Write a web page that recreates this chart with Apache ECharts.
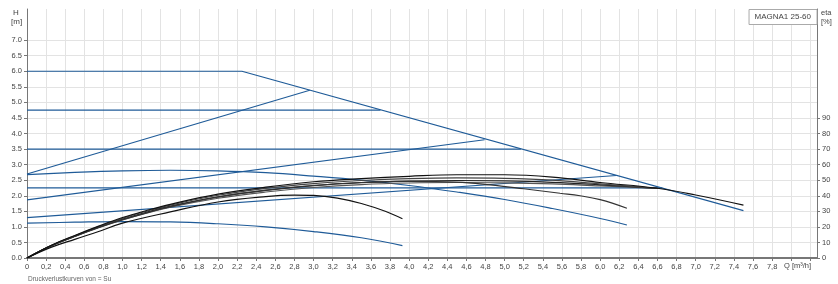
<!DOCTYPE html>
<html><head><meta charset="utf-8">
<script src="https://cdn.jsdelivr.net/npm/echarts@6/dist/echarts.min.js"></script>
<style>html,body{margin:0;padding:0;background:#fff}#c{width:838px;height:284px}</style>
</head><body><div id="c"></div>
<script>
// ---- Data (H in m, Q in m³/h, eta in %) ----
const maxQ = [0, 2.25, 7.5];
const maxH = [6.0, 6.0, 1.52];
const cp1Q = [0, 3.7];   const cp1H = [4.75, 4.75];
const cp2Q = [0, 5.17];  const cp2H = [3.5, 3.5];
const cp3Q = [0, 6.65];  const cp3H = [2.25, 2.25];
const pp1Q = [0, 2.96];  const pp1H = [2.7, 5.39];
const pp2Q = [0, 4.79];  const pp2H = [1.87, 3.8];
const pp3Q = [0, 6.17];  const pp3H = [1.3, 2.65];
const midQ = [0, 0.5, 1.0, 1.5, 2.0, 2.5, 3.0, 3.5, 4.0, 4.5, 5.0, 5.5, 6.0, 6.28];
const midH = [2.68, 2.75, 2.80, 2.82, 2.80, 2.74, 2.63, 2.50, 2.33, 2.12, 1.88, 1.59, 1.27, 1.06];
const lowQ = [0, 0.5, 1.0, 1.5, 2.0, 2.5, 3.0, 3.5, 3.93];
const lowH = [1.12, 1.15, 1.17, 1.16, 1.10, 1.00, 0.85, 0.65, 0.40];

const etaQ  = [0, 0.25, 0.5, 0.75, 1, 1.25, 1.5, 2, 2.5, 3, 3.5, 4, 4.5, 5, 5.5, 6, 6.6, 7, 7.5];
const eta1  = [0, 8, 14.5, 20.5, 26, 30.5, 34.5, 41, 45.5, 49, 51, 52.5, 53.5, 53.5, 52, 48.5, 44.8, 40.5, 34];
const eta2  = [0, 7.9, 14.3, 20.2, 25.5, 30, 34, 40.3, 44.7, 47.8, 49.8, 51, 51.5, 51.2, 50, 47.6, 44.8];
const eta3  = [0, 7.8, 14, 19.8, 25, 29.4, 33.3, 39.3, 43.5, 46.5, 48.4, 49.4, 49.8, 49.5, 48.6, 47, 44.8];
const eta4  = [0, 7.7, 13.8, 19.5, 24.5, 28.8, 32.6, 38.4, 42.4, 45.3, 47.2, 48.2, 48.5, 48.3, 47.6, 46.3, 44.8];
const etaMidQ = [0, 0.25, 0.5, 0.75, 1, 1.25, 1.5, 2, 2.5, 3, 3.5, 4, 4.5, 4.85, 5.2, 5.58, 5.79, 6, 6.28];
const etaMid  = [0, 7.8, 14, 19.6, 24.6, 29, 33, 39.2, 43.6, 46.6, 48.5, 49.3, 48.8, 47, 44.5, 41.6, 40, 37.5, 32];
const etaLowQ = [0, 0.25, 0.5, 0.75, 1, 1.5, 2, 2.5, 2.8, 3, 3.25, 3.5, 3.75, 3.93];
const etaLow  = [0, 6.8, 12, 17, 22.4, 29.6, 36, 39.5, 40.4, 40.2, 38.5, 35, 30, 25.2];

const leftTicks = [0, 0.5, 1, 1.5, 2, 2.5, 3, 3.5, 4, 4.5, 5, 5.5, 6, 6.5, 7];
const rightTicks = [0, 10, 20, 30, 40, 50, 60, 70, 80, 90];

const zip = (a, b) => a.map((v, i) => [v, b[i]]);
const BLUE = '#1f5b98';

function hLine(q, h, smooth) {
  return { type: 'line', data: zip(q, h), showSymbol: false, smooth: smooth || false,
    lineStyle: { color: BLUE, width: 1.2 }, silent: true, z: 3 };
}
function eLine(q, e, color) {
  return { type: 'line', yAxisIndex: 1, data: zip(q, e), showSymbol: false, smooth: 0.4,
    lineStyle: { color: color, width: 1.2 }, silent: true, z: 4 };
}

const chart = echarts.init(document.getElementById('c'), null, { renderer: 'canvas' });
const fs = 7.5, fc = '#444', ff = 'Liberation Sans, Arial, sans-serif';
chart.setOption({
  animation: false,
  backgroundColor: '#fff',
  title: { text: 'MAGNA1 25-60', right: 21, top: 9, padding: [4, 6, 4, 6],
    borderColor: '#aaa', borderWidth: 1, backgroundColor: '#fff',
    textStyle: { fontSize: 8, fontWeight: 'normal', color: '#444', fontFamily: ff } },
  grid: { left: 27, right: 21, top: 9, bottom: 26 },
  xAxis: { type: 'value', min: 0, max: 8.27, interval: 0.2,
    axisLine: { lineStyle: { color: '#777', width: 2 } },
    axisTick: { length: 3, lineStyle: { color: '#777' } },
    splitLine: { lineStyle: { color: '#e3e3e3', width: 1 } },
    axisLabel: { fontSize: fs, color: fc, fontFamily: ff, margin: 5, showMaxLabel: false,
      formatter: v => (v > 7.9 ? '' : (v === 0 ? '0' : v.toFixed(1).replace('.', ','))) } },
  yAxis: [
    { type: 'value', min: 0, max: 8, interval: 0.5,
      axisLine: { show: true, lineStyle: { color: '#777', width: 1 } },
      axisTick: { show: true, length: 3, lineStyle: { color: '#777' }, customValues: leftTicks },
      splitLine: { lineStyle: { color: '#e3e3e3', width: 1 } },
      axisLabel: { fontSize: fs, color: fc, fontFamily: ff, margin: 5, customValues: leftTicks,
        formatter: v => v.toFixed(1) } },
    { type: 'value', min: 0, max: 160, interval: 10, position: 'right',
      axisLine: { show: true, lineStyle: { color: '#777', width: 1 } },
      axisTick: { show: true, length: 3, lineStyle: { color: '#777' }, customValues: rightTicks },
      splitLine: { show: false },
      axisLabel: { fontSize: fs, color: fc, fontFamily: ff, margin: 5, customValues: rightTicks,
        formatter: v => String(v) } }
  ],
  graphic: [
    { type: 'text', left: 13, top: 9, style: { text: 'H', fontSize: 8, fill: fc, fontFamily: ff } },
    { type: 'text', left: 11, top: 18, style: { text: '[m]', fontSize: 8, fill: fc, fontFamily: ff } },
    { type: 'text', left: 821, top: 9, style: { text: 'eta', fontSize: 7.5, fill: fc, fontFamily: ff } },
    { type: 'text', left: 821, top: 18, style: { text: '[%]', fontSize: 7.5, fill: fc, fontFamily: ff } },
    { type: 'text', left: 784, top: 262, style: { text: 'Q [m³/h]', fontSize: fs, fill: fc, fontFamily: ff } },
    { type: 'text', left: 28, top: 276, style: { text: 'Druckverlustkurven von = Su', fontSize: 6.5, fill: '#666', fontFamily: ff } }
  ],
  series: [
    hLine(maxQ, maxH),
    hLine(cp1Q, cp1H), hLine(cp2Q, cp2H), hLine(cp3Q, cp3H),
    hLine(pp1Q, pp1H), hLine(pp2Q, pp2H), hLine(pp3Q, pp3H),
    hLine(midQ, midH, 0.4), hLine(lowQ, lowH, 0.4),
    eLine(etaQ.slice(0, eta4.length), eta4, '#555'),
    eLine(etaQ.slice(0, eta3.length), eta3, '#222'),
    eLine(etaQ.slice(0, eta2.length), eta2, '#444'),
    eLine(etaMidQ, etaMid, '#333'),
    eLine(etaLowQ, etaLow, '#111'),
    eLine(etaQ, eta1, '#111')
  ]
});
</script></body></html>
